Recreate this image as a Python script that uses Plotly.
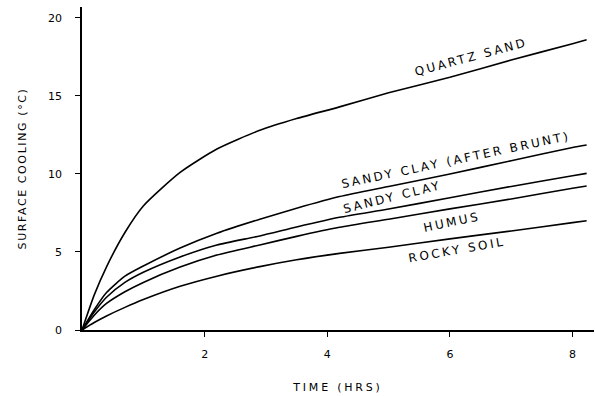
import plotly.graph_objects as go

# ---- data ----
time_hrs = [0, 0.2, 0.4, 0.7, 1.0, 1.6, 2.2, 2.9, 3.5, 4.2, 5.0, 6.0, 7.0, 8.0, 8.23]
quartz_sand = [0, 2.25, 4.05, 6.25, 7.95, 10.1, 11.6, 12.8, 13.55, 14.3, 15.2, 16.2, 17.3, 18.35, 18.6]
sandy_clay_brunt = [0, 1.3, 2.4, 3.45, 4.1, 5.25, 6.2, 7.1, 7.8, 8.55, 9.2, 10.0, 10.85, 11.7, 11.86]
sandy_clay = [0, 1.15, 2.1, 3.05, 3.7, 4.68, 5.45, 6.03, 6.6, 7.22, 7.75, 8.48, 9.2, 9.88, 10.04]
humus = [0, 0.95, 1.7, 2.45, 3.05, 4.03, 4.8, 5.45, 6.0, 6.58, 7.1, 7.76, 8.4, 9.08, 9.23]
rocky_soil = [0, 0.48, 0.9, 1.45, 1.95, 2.8, 3.45, 4.06, 4.5, 4.91, 5.3, 5.84, 6.35, 6.88, 7.0]

series_names = ["QUARTZ SAND", "SANDY CLAY (AFTER BRUNT)", "SANDY CLAY", "HUMUS", "ROCKY SOIL"]
series_values = [quartz_sand, sandy_clay_brunt, sandy_clay, humus, rocky_soil]

x_ticks = [2, 4, 6, 8]
y_ticks = [0, 5, 10, 15, 20]

FONT = "DejaVu Sans"

fig = go.Figure()
for name, vals in zip(series_names, series_values):
    fig.add_trace(go.Scatter(x=time_hrs, y=vals, mode="lines", name=name,
                             line=dict(color="black", width=1.6, shape="spline", smoothing=0.6),
                             showlegend=False, hoverinfo="skip"))

# label placement (x, y, angle) per series
label_layout = [(6.35, 17.5, -15), (6.10, 10.9, -12), (5.07, 8.5, -14), (6.04, 6.95, -12), (6.12, 5.1, -10)]
for name, (lx, ly, ang) in zip(series_names, label_layout):
    fig.add_annotation(x=lx, y=ly, xref="x", yref="y", showarrow=False, textangle=ang,
                       text='<span style="letter-spacing:2.6px">' + name + '</span>',
                       font=dict(family=FONT, size=12, color="black"))

fig.update_layout(
    width=595, height=396,
    margin=dict(l=82, r=1, t=7, b=66),
    paper_bgcolor="white", plot_bgcolor="white",
    font=dict(family=FONT, size=11, color="black"),
    xaxis=dict(range=[0, 8.35], tickvals=x_ticks, ticktext=[str(v) for v in x_ticks],
               showgrid=False, zeroline=False, showline=True, linecolor="black", linewidth=1.5,
               ticks="outside", ticklen=5, tickwidth=1.2, tickcolor="black",
               tickfont=dict(family=FONT, size=11), ticklabelstandoff=8,
               title=dict(text='<span style="letter-spacing:2.8px">TIME (HRS)</span>',
                          font=dict(family=FONT, size=11), standoff=23)),
    yaxis=dict(range=[0, 20.7], tickvals=y_ticks, ticktext=[str(v) for v in y_ticks],
               showgrid=False, zeroline=False, showline=True, linecolor="black", linewidth=1.5,
               ticks="outside", ticklen=5, tickwidth=1.2, tickcolor="black",
               tickfont=dict(family=FONT, size=11), ticklabelstandoff=11,
               title=dict(text='<span style="letter-spacing:1.6px">SURFACE COOLING (°C)</span>',
                          font=dict(family=FONT, size=11), standoff=19)),
)

fig.write_html("out.html")
